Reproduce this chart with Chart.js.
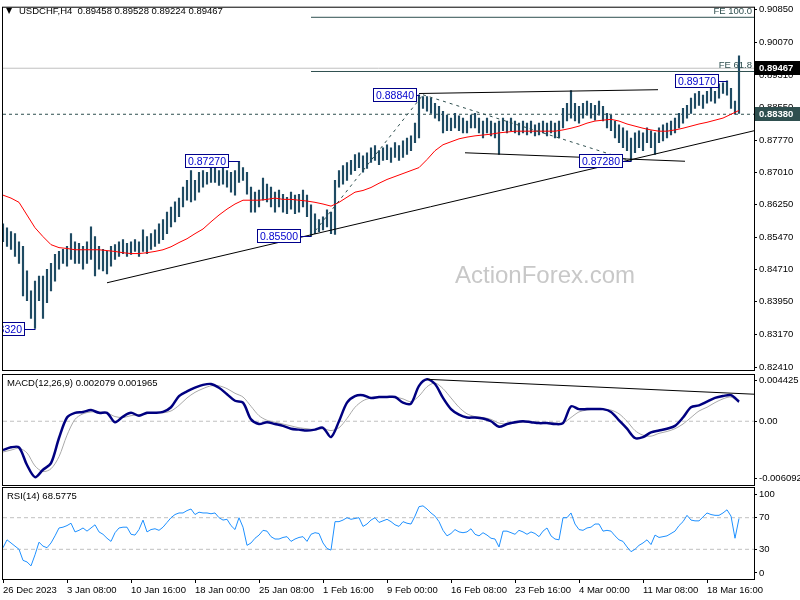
<!DOCTYPE html>
<html>
<head>
<meta charset="utf-8">
<script src="https://cdn.jsdelivr.net/npm/chart.js@4"></script>
<style>
html, body { margin: 0; padding: 0; background: #fff; }
#wrap { position: relative; width: 800px; height: 600px; overflow: hidden; }
#wrap canvas { position: absolute; left: 0; top: 0; }
</style>
</head>
<body>
<div id="wrap">
  <canvas id="priceChart" width="800" height="600"></canvas>
  <canvas id="macdChart" width="800" height="600"></canvas>
  <canvas id="rsiChart" width="800" height="600"></canvas>
</div>
<script>
// USDCHF H4 - one entry per two 4-hour bars, prices in 1/10000
var barHigh = [
  8579,8570,8561,8556,8537,8526,8468,8421,8444,8456,
  8456,8472,8486,8507,8514,8519,8526,8556,8537,8533,
  8526,8537,8572,8549,8526,8519,8514,8526,8530,8537,
  8542,8533,8537,8542,8537,8565,8549,8556,8565,8579,
  8589,8607,8619,8631,8640,8666,8682,8705,8682,8701,
  8705,8701,8712,8717,8705,8712,8705,8701,8705,8727,
  8712,8701,8666,8654,8659,8687,8673,8666,8654,8659,
  8649,8642,8654,8647,8649,8659,8647,8624,8603,8589,
  8596,8612,8607,8682,8705,8717,8724,8729,8743,8747,
  8740,8747,8759,8764,8752,8759,8766,8759,8771,8764,
  8775,8782,8787,8817,8884,8880,8880,8876,8864,8857,
  8845,8836,8829,8840,8834,8829,8822,8836,8840,8829,
  8822,8829,8822,8817,8822,8829,8822,8829,8822,8817,
  8822,8817,8822,8813,8817,8822,8817,8822,8817,8822,
  8852,8864,8894,8864,8857,8864,8869,8864,8859,8869,
  8857,8840,8836,8822,8813,8806,8799,8782,8794,8799,
  8794,8806,8799,8794,8806,8813,8817,8822,8829,8840,
  8852,8859,8876,8887,8892,8883,8892,8899,8892,8910,
  8912,8917,8899,8869,8976
];
var barLow = [
  8537,8526,8519,8502,8486,8409,8398,8356,8332,8398,
  8356,8393,8421,8444,8472,8486,8479,8495,8486,8486,
  8472,8486,8495,8456,8472,8468,8461,8479,8495,8502,
  8509,8502,8507,8514,8502,8514,8509,8519,8526,8533,
  8542,8556,8572,8584,8596,8619,8635,8631,8635,8654,
  8666,8673,8677,8677,8670,8673,8666,8654,8647,8677,
  8682,8649,8607,8607,8619,8635,8631,8619,8607,8619,
  8607,8603,8614,8603,8607,8619,8596,8550,8556,8561,
  8565,8572,8556,8554,8666,8673,8682,8696,8705,8712,
  8701,8710,8724,8729,8719,8729,8731,8724,8736,8729,
  8736,8743,8752,8771,8782,8852,8845,8840,8829,8822,
  8794,8799,8799,8806,8799,8794,8794,8806,8806,8794,
  8782,8794,8787,8782,8743,8799,8794,8799,8794,8789,
  8794,8789,8794,8787,8789,8794,8787,8794,8782,8782,
  8806,8822,8829,8822,8817,8829,8836,8829,8824,8836,
  8822,8806,8799,8782,8771,8759,8752,8728,8747,8759,
  8752,8771,8759,8743,8771,8775,8782,8789,8794,8806,
  8817,8829,8840,8852,8859,8852,8864,8869,8864,8876,
  8887,8883,8852,8838,8840
];

// moving average (red), one value per four 4-hour bars, in 1/10000
var smaLine = [
  8647,8640,8630,8600,8570,8549,8530,8523,8521,8518,
  8518,8518,8518,8516,8514,8511,8509,8509,8511,8514,
  8518,8525,8535,8544,8556,8567,8584,8600,8614,8626,
  8635,8635,8635,8637,8640,8637,8637,8635,8633,8630,
  8626,8621,8630,8642,8654,8658,8665,8675,8684,8691,
  8698,8705,8712,8731,8752,8766,8773,8780,8784,8787,
  8789,8791,8794,8796,8798,8798,8798,8798,8798,8798,
  8801,8805,8810,8817,8822,8824,8826,8822,8815,8810,
  8805,8801,8798,8798,8801,8805,8810,8815,8819,8824,
  8829,8838,8847
];

// MACD(12,26,9) main and signal, one value per four 4-hour bars
var macdLine = [
  -0.0031,-0.0028,-0.0028,-0.0047,-0.0060,-0.0052,-0.0045,-0.0018,0.0004,0.0009,
  0.0010,0.0012,0.0009,0.0009,-0.0001,0.0005,0.0009,0.0006,0.0009,0.0009,
  0.0010,0.0015,0.0027,0.0032,0.0036,0.0039,0.0040,0.0036,0.0029,0.0022,
  0.0020,0.0002,-0.0003,-0.0001,-0.0003,-0.0005,-0.0008,-0.0009,-0.0010,-0.0009,
  -0.0007,-0.0017,0.0000,0.0020,0.0027,0.0028,0.0025,0.0026,0.0026,0.0026,
  0.0020,0.0019,0.0038,0.0045,0.0040,0.0025,0.0013,0.0007,0.0004,0.0004,
  0.0003,0.0000,-0.0006,-0.0003,-0.0001,0.0000,-0.0001,-0.0002,-0.0002,-0.0003,
  -0.0002,0.0016,0.0013,0.0013,0.0013,0.0013,0.0010,0.0001,-0.0008,-0.0018,
  -0.0017,-0.0012,-0.0010,-0.0008,-0.0005,0.0004,0.0015,0.0017,0.0021,0.0025,
  0.0027,0.0028,0.0021
];
var signalLine = [
  -0.0033,-0.0031,-0.0029,-0.0034,-0.0048,-0.0054,-0.0051,-0.0038,-0.0015,0.0002,
  0.0008,0.0010,0.0010,0.0009,0.0005,0.0004,0.0006,0.0007,0.0008,0.0009,
  0.0009,0.0011,0.0017,0.0025,0.0031,0.0035,0.0038,0.0038,0.0035,0.0030,
  0.0026,0.0016,0.0006,0.0001,-0.0001,-0.0003,-0.0005,-0.0007,-0.0008,-0.0009,
  -0.0008,-0.0010,-0.0007,0.0003,0.0015,0.0022,0.0025,0.0026,0.0026,0.0026,
  0.0024,0.0021,0.0027,0.0037,0.0041,0.0035,0.0025,0.0015,0.0008,0.0005,
  0.0004,0.0002,-0.0002,-0.0003,-0.0002,-0.0001,-0.0001,-0.0001,-0.0002,-0.0002,
  -0.0002,0.0004,0.0010,0.0012,0.0013,0.0013,0.0012,0.0008,0.0000,-0.0010,
  -0.0015,-0.0016,-0.0013,-0.0011,-0.0008,-0.0003,0.0004,0.0011,0.0015,0.0020,
  0.0024,0.0026,0.0020
];

// RSI(14), one value per two 4-hour bars
var rsiLine = [
  32,42,38,34,30,16,14,9,23,39,
  34,32,38,47,57,58,60,63,52,54,
  57,53,57,61,52,49,44,40,51,57,
  58,58,49,48,55,67,52,55,56,54,
  58,64,70,74,76,76,79,81,74,77,
  76,76,75,76,70,67,68,60,55,70,
  58,35,38,44,48,54,53,46,43,43,
  45,46,40,43,45,46,40,49,51,50,
  38,31,29,65,65,67,70,68,69,70,
  59,62,67,70,64,66,68,65,61,59,
  65,63,62,72,84,85,81,76,72,65,
  54,47,50,55,52,51,52,56,49,47,
  51,48,44,43,33,53,53,51,49,54,
  52,49,52,50,46,53,57,47,43,42,
  70,70,76,62,55,54,57,58,62,62,
  53,54,53,47,42,40,33,27,30,35,
  38,42,36,48,45,46,47,50,53,60,
  65,73,67,66,66,71,76,74,73,73,
  76,80,72,44,69
];

var timeLabels = ['26 Dec 2023', '3 Jan 08:00', '10 Jan 16:00', '18 Jan 00:00', '25 Jan 08:00', '1 Feb 16:00',
                  '9 Feb 00:00', '16 Feb 08:00', '23 Feb 16:00', '4 Mar 00:00', '11 Mar 08:00', '18 Mar 16:00'];
var labelEvery = 16; // entries between time labels
var priceTicks = [0.90850, 0.90070, 0.89310, 0.88550, 0.87770, 0.87010, 0.86250, 0.85470, 0.84710, 0.83950, 0.83170, 0.82410];
var macdTicks = [0.004425, 0, -0.006092];
var rsiTicks = [100, 70, 30, 0];

// marked swing highs / lows (entry index, price)
var swingBars = [8, 59, 77, 104, 157, 181];
var swingPrices = [0.8332, 0.8727, 0.8550, 0.8884, 0.8728, 0.8917];

var lastPrice = 0.89467;
var markedLevel = 0.88380;
var feNames = ['FE 100.0', 'FE 61.8'];
var fePrices = [0.9067, 0.8939];
var feStart = 77;

// drawn trend lines: [fromIndex, fromPrice, toIndex, toPrice]
var trendLines = [[26, 0.8440, 187.75, 0.8799], [104, 0.8887, 163.75, 0.8896], [115.5, 0.8747, 170.5, 0.8727]];
var swingLines = [[77, 0.8550, 105, 0.8884], [105, 0.8884, 157, 0.8728]];
var macdTrend = [106, 0.0045, 187.75, 0.0029];

var xMax = 187.75;
var FONT = '"Liberation Sans", Arial, sans-serif';

Chart.defaults.font.family = FONT;
Chart.defaults.font.size = 9.5;
Chart.defaults.color = '#000';
Chart.defaults.animation = false;
Chart.defaults.plugins.legend.display = false;
Chart.defaults.plugins.tooltip.enabled = false;

function segment(x1, y1, x2, y2, color, dash, width, order) {
    return {
        type: 'line', data: [{ x: x1, y: y1 }, { x: x2, y: y2 }],
        borderColor: color, borderWidth: width || 1, borderDash: dash || [],
        pointRadius: 0, fill: false, tension: 0, order: order || 1
    };
}

function timeAxis(show) {
    return {
        type: 'linear', min: 0, max: xMax, offset: false, display: show,
        afterBuildTicks: function (s) { s.ticks = timeLabels.map(function (t, i) { return { value: i * labelEvery }; }); },
        afterFit: function (s) { s.height = show ? 21 : 0; },
        ticks: { autoSkip: false, maxRotation: 0, align: 'start', padding: 2,
                 callback: function (v, i) { return timeLabels[i]; } },
        grid: { offset: false, drawOnChartArea: false, drawTicks: true, tickLength: 4, color: '#000' },
        border: { display: true, color: '#000' }
    };
}

function rightAxis(min, max, ticks, fmt) {
    return {
        position: 'right', min: min, max: max,
        afterBuildTicks: function (s) { s.ticks = ticks.map(function (v) { return { value: v }; }); },
        afterFit: function (s) { s.width = 46; },
        ticks: { autoSkip: false, padding: 2, callback: fmt },
        grid: { drawOnChartArea: false, drawTicks: true, tickLength: 3, color: '#000' },
        border: { display: true, color: '#000' }
    };
}

function drawFrame(chart) {
    var a = chart.chartArea, c = chart.ctx;
    c.save();
    c.strokeStyle = '#000';
    c.lineWidth = 1;
    c.strokeRect(a.left - 0.5, a.top - 0.5, a.right - a.left + 1, a.bottom - a.top + 1);
    c.restore();
}

function drawTitle(chart, text, y) {
    var c = chart.ctx;
    c.save();
    c.font = '9.5px ' + FONT;
    c.fillStyle = '#000';
    c.textBaseline = 'alphabetic';
    c.fillText(text, 7, y);
    c.restore();
}

function axisBox(chart, value, bg) {
    var c = chart.ctx, a = chart.chartArea;
    var y = Math.round(chart.scales.y.getPixelForValue(value));
    c.save();
    c.fillStyle = bg;
    c.fillRect(a.right + 1, y - 7, 46, 14);
    c.fillStyle = '#fff';
    c.font = 'bold 9.5px ' + FONT;
    c.textBaseline = 'middle';
    c.fillText(value.toFixed(5), a.right + 5, y + 0.5);
    c.restore();
}

var priceOverlay = {
    id: 'priceOverlay',
    beforeDatasetsDraw: function (chart) {
        var c = chart.ctx;
        c.save();
        c.font = '24px ' + FONT;
        c.fillStyle = '#c8c8c8';
        c.textAlign = 'center';
        c.fillText('ActionForex.com', 545, 283);
        c.restore();
    },
    afterDatasetsDraw: function (chart) {
        var c = chart.ctx, a = chart.chartArea, xs = chart.scales.x, ys = chart.scales.y;
        c.save();
        c.beginPath();
        c.rect(a.left, a.top, a.right - a.left, a.bottom - a.top);
        c.clip();
        // Fibonacci expansion captions
        c.font = '9.5px ' + FONT;
        c.fillStyle = '#2f4f4f';
        c.textAlign = 'right';
        c.textBaseline = 'bottom';
        feNames.forEach(function (name, i) {
            c.fillText(name, a.right - 2, ys.getPixelForValue(fePrices[i]) - 1);
        });
        // swing price boxes
        var gaps = [10, 10, 10, 2, 8, 8];
        c.font = '10.5px ' + FONT;
        c.textAlign = 'center';
        c.textBaseline = 'middle';
        swingBars.forEach(function (b, i) {
            var px = Math.round(xs.getPixelForValue(b));
            var py = Math.round(ys.getPixelForValue(swingPrices[i]));
            var right = px - gaps[i];
            c.fillStyle = '#fff';
            c.fillRect(right - 44, py - 7, 44, 14);
            c.strokeStyle = '#00008b';
            c.lineWidth = 1;
            c.strokeRect(right - 44 + 0.5, py - 7 + 0.5, 43, 13);
            c.beginPath();
            c.moveTo(right, py + 0.5);
            c.lineTo(px + 0.5, py + 0.5);
            c.stroke();
            c.fillStyle = '#0000cd';
            c.fillText(swingPrices[i].toFixed(5), right - 22, py + 1);
        });
        c.restore();
    },
    afterDraw: function (chart) {
        drawFrame(chart);
        axisBox(chart, lastPrice, '#000');
        axisBox(chart, markedLevel, '#2f4f4f');
        var c = chart.ctx;
        c.save();
        c.font = '8px "DejaVu Sans"';
        c.fillText('\u25BC', 6, 13);
        c.restore();
        c.save();
        c.font = '9.5px ' + FONT;
        c.fillText('USDCHF,H4  0.89458 0.89528 0.89224 0.89467', 19, 14);
        c.restore();
    }
};

// ---------- price panel ----------
var priceSets = [];
priceSets.push({
    type: 'bar',
    data: barHigh.map(function (h, i) { return { x: i, y: [barLow[i] / 10000, h / 10000] }; }),
    backgroundColor: '#1f4b63', borderWidth: 0, barThickness: 1.5, order: 5
});
priceSets.push({
    type: 'line',
    data: smaLine.map(function (v, k) { return { x: k * 2, y: v / 10000 }; }),
    borderColor: '#ff0000', borderWidth: 1, pointRadius: 0, tension: 0, fill: false, order: 2
});
priceSets.push(segment(0, lastPrice, xMax, lastPrice, '#c0c0c0', [], 1, 6));
priceSets.push(segment(0, markedLevel, xMax, markedLevel, '#2f4f4f', [3, 3], 1, 6));
fePrices.forEach(function (p) { priceSets.push(segment(feStart, p, xMax, p, '#2f4f4f', [], 1, 3)); });
trendLines.forEach(function (t) { priceSets.push(segment(t[0], t[1], t[2], t[3], '#000', [], 1, 1)); });
swingLines.forEach(function (t) { priceSets.push(segment(t[0], t[1], t[2], t[3], '#2f4f4f', [3, 4], 1, 1)); });

new Chart(document.getElementById('priceChart'), {
    type: 'bar',
    data: { datasets: priceSets },
    options: {
        responsive: false,
        layout: { padding: { left: 3, top: 3, right: 0, bottom: 230 } },
        scales: {
            x: timeAxis(false),
            y: rightAxis(0.823401, 0.908966, priceTicks, function (v) { return v.toFixed(5); })
        }
    },
    plugins: [priceOverlay]
});

// ---------- MACD panel ----------
new Chart(document.getElementById('macdChart'), {
    type: 'line',
    data: {
        datasets: [
            segment(0, 0, xMax, 0, '#c0c0c0', [4, 3], 1, 9),
            {
                data: signalLine.map(function (v, k) { return { x: k * 2, y: v }; }),
                borderColor: '#a9a9a9', borderWidth: 1, pointRadius: 0, tension: 0.3, order: 4
            },
            {
                data: macdLine.map(function (v, k) { return { x: k * 2, y: v }; }),
                borderColor: '#000080', borderWidth: 2.5, pointRadius: 0, tension: 0.3, order: 2
            },
            segment(macdTrend[0], macdTrend[1], macdTrend[2], macdTrend[3], '#000', [], 1, 1)
        ]
    },
    options: {
        responsive: false,
        layout: { padding: { left: 3, top: 375, right: 0, bottom: 115 } },
        scales: {
            x: timeAxis(false),
            y: rightAxis(-0.006843, 0.004962, macdTicks, function (v) { return v === 0 ? '0.00' : v.toFixed(6); })
        }
    },
    plugins: [{
        id: 'macdOverlay',
        afterDraw: function (chart) {
            drawFrame(chart);
            drawTitle(chart, 'MACD(12,26,9) 0.002079 0.001965', 386);
        }
    }]
});

// ---------- RSI panel ----------
new Chart(document.getElementById('rsiChart'), {
    type: 'line',
    data: {
        datasets: [
            segment(0, 70, xMax, 70, '#c0c0c0', [4, 3], 1, 9),
            segment(0, 30, xMax, 30, '#c0c0c0', [4, 3], 1, 9),
            {
                data: rsiLine.map(function (v, i) { return { x: i, y: v }; }),
                borderColor: '#1e90ff', borderWidth: 1, pointRadius: 0, tension: 0, order: 1
            }
        ]
    },
    options: {
        responsive: false,
        layout: { padding: { left: 3, top: 488, right: 0, bottom: 0 } },
        scales: {
            x: timeAxis(true),
            y: rightAxis(-7.6, 107.6, rsiTicks, function (v) { return String(v); })
        }
    },
    plugins: [{
        id: 'rsiOverlay',
        afterDraw: function (chart) {
            drawFrame(chart);
            drawTitle(chart, 'RSI(14) 68.5775', 499);
        }
    }]
});
</script>
</body>
</html>
